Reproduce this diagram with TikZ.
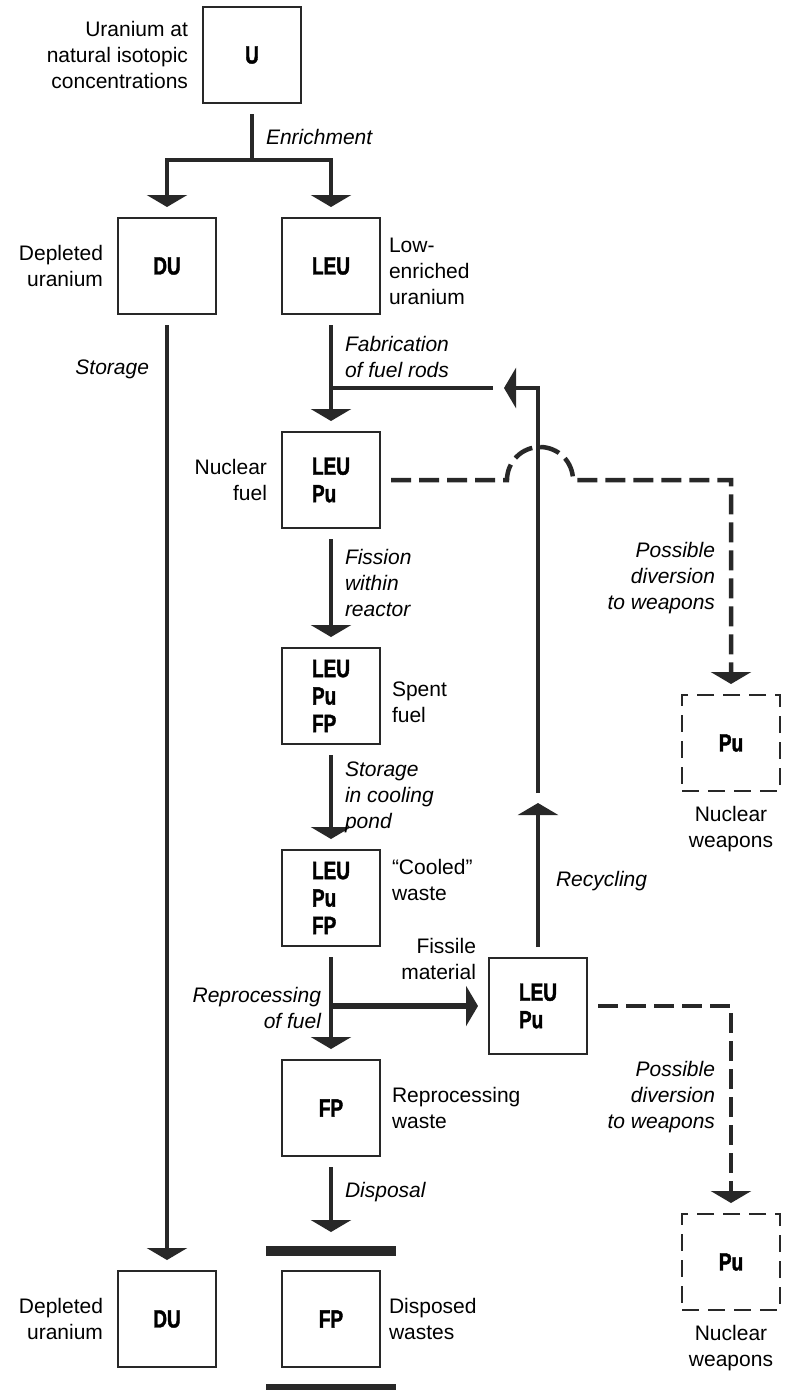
\documentclass[tikz,border=0pt]{standalone}
\usepackage{fontspec}
\setmainfont{Liberation Sans}
\newfontfamily\boxfont[FakeStretch=0.76,FakeBold=1.5]{Liberation Sans Bold}
\usepackage{tikz}
\usetikzlibrary{arrows.meta,positioning}
\definecolor{ink}{RGB}{40,40,40}

\begin{document}
\begin{tikzpicture}[
  x=1pt, y=1pt,
  font=\fontsize{21}{26}\selectfont,
  box/.style={
    draw=ink, line width=1.5pt, align=left,
    minimum width=98pt, minimum height=96pt,
    inner sep=2pt, outer sep=11pt,
    font=\boxfont\fontsize{25}{27.5}\selectfont
  },
  pubox/.style={box, dash pattern=on 17pt off 9pt},
  arrow/.style={-{Triangle[width=40pt,length=12pt]}, line width=4.5pt, draw=ink},
  link/.style={line width=4.5pt, draw=ink},
  divert/.style={arrow, dash pattern=on 20pt off 8pt},
  bar/.style={fill=ink, minimum width=130pt, minimum height=10pt, inner sep=0pt, outer sep=0pt},
  tag/.style={inner sep=4pt, outer sep=0pt, text=black},
  act/.style={tag, font=\itshape\fontsize{21}{26}\selectfont}
]
\path[use as bounding box, fill=white] (0,0) rectangle (789,-1390);

% Nodes
\node[box] (U) at (252,-55) {U};
\node[tag, left=0pt of U, align=right] {Uranium at\\natural isotopic\\concentrations};

\node[box] (DUa) at (167,-266) {DU};
\node[tag, left=0pt of DUa, align=right] {Depleted\\uranium};

\node[box] (LEU) at (331,-266) {LEU};
\node[tag, right=-6pt of LEU, align=left, yshift=-5pt] {Low-\\enriched\\uranium};

\node[box, below=96pt of LEU] (NF) {LEU\\Pu};
\node[tag, left=0pt of NF, align=right] {Nuclear\\fuel};

\node[box, below=98pt of NF] (SF) {LEU\\Pu\\FP};
\node[tag, right=-3pt of SF, align=left, yshift=-6pt] {Spent\\fuel};

\node[box, below=84pt of SF] (CW) {LEU\\Pu\\FP};
\node[tag, right=-3pt of CW, align=left, yshift=18pt] {“Cooled”\\waste};

\node[box, below=92pt of CW] (FPr) {FP};
\node[tag, right=-3pt of FPr, align=left] {Reprocessing\\waste};

\node[box, below=93pt of FPr] (FPd) {FP};
\node[tag, right=-6pt of FPd, align=left] {Disposed\\wastes};
\node[bar, above=4pt of FPd] (capA) {};
\node[bar, below=6pt of FPd] (capB) {};

\node[box] (DUb) at (DUa |- FPd) {DU};
\node[tag, left=0pt of DUb, align=right] {Depleted\\uranium};

\node[box] (FM) at (538,-1006) {LEU\\Pu};
\node[tag, above left=22pt and -2pt of FM.west, align=right] {Fissile\\material};

% Weapons
\node[pubox] (PuA) at (731,-743) {Pu};
\node[tag, below=0pt of PuA, align=center] {Nuclear\\weapons};
\node[pubox] (PuB) at (731,-1262) {Pu};
\node[tag, below=0pt of PuB, align=center] {Nuclear\\weapons};

% Bend points
\coordinate (enr) at (252,-160);
\coordinate (fab) at (493,-388);
\coordinate (recA) at (538,-803);
\coordinate (recB) at (538,-793);
\coordinate (recC) at (504,-388);
\coordinate (hop) at (507,-480);

% Arrows + step labels
\draw[link] (U.south) -- (enr)
  node[act, midway, right=10pt] {Enrichment};
\draw[arrow] (enr) -| (DUa.north);
\draw[arrow] (enr) -| (LEU.north);

\draw[arrow] (DUa.south) -- (DUb.north)
  node[act, pos=0.047, left=14pt] {Storage};

\draw[arrow] (LEU.south) -- (NF.north)
  node[act, pos=0.33, right=10pt, align=left] {Fabrication\\of fuel rods};
\draw[link] (LEU.south |- fab) -- (fab);

\draw[arrow] (NF.south) -- (SF.north)
  node[act, pos=0.45, right=10pt, align=left] {Fission\\within\\reactor};

\draw[arrow] (SF.south) -- (CW.north)
  node[act, midway, right=10pt, align=left] {Storage\\in cooling\\pond};

\draw[arrow] (CW.south) -- (FPr.north)
  node[act, pos=0.55, left=6pt, align=right] {Reprocessing\\of fuel};
\draw[arrow, line width=6pt] (CW.south |- FM.west) -- (FM.west);

\draw[arrow, shorten >=14pt] (FPr.south) -- (capA.north)
  node[act, pos=0.32, right=10pt] {Disposal};

\draw[arrow] (FM.north) -- (recA)
  node[act, pos=0.46, right=14pt] {Recycling};
\draw[arrow] (recB) |- (recC);

\draw[divert] (NF.east) -- (hop) arc[start angle=180, end angle=0, radius=33]
  -- (PuA.north |- hop) -- (PuA.north)
  node[act, pos=0.48, left=12pt, align=right] {Possible\\diversion\\to weapons};

\draw[divert] (FM.east) -| (PuB.north)
  node[act, pos=0.73, left=12pt, align=right] {Possible\\diversion\\to weapons};

\end{tikzpicture}
\end{document}
